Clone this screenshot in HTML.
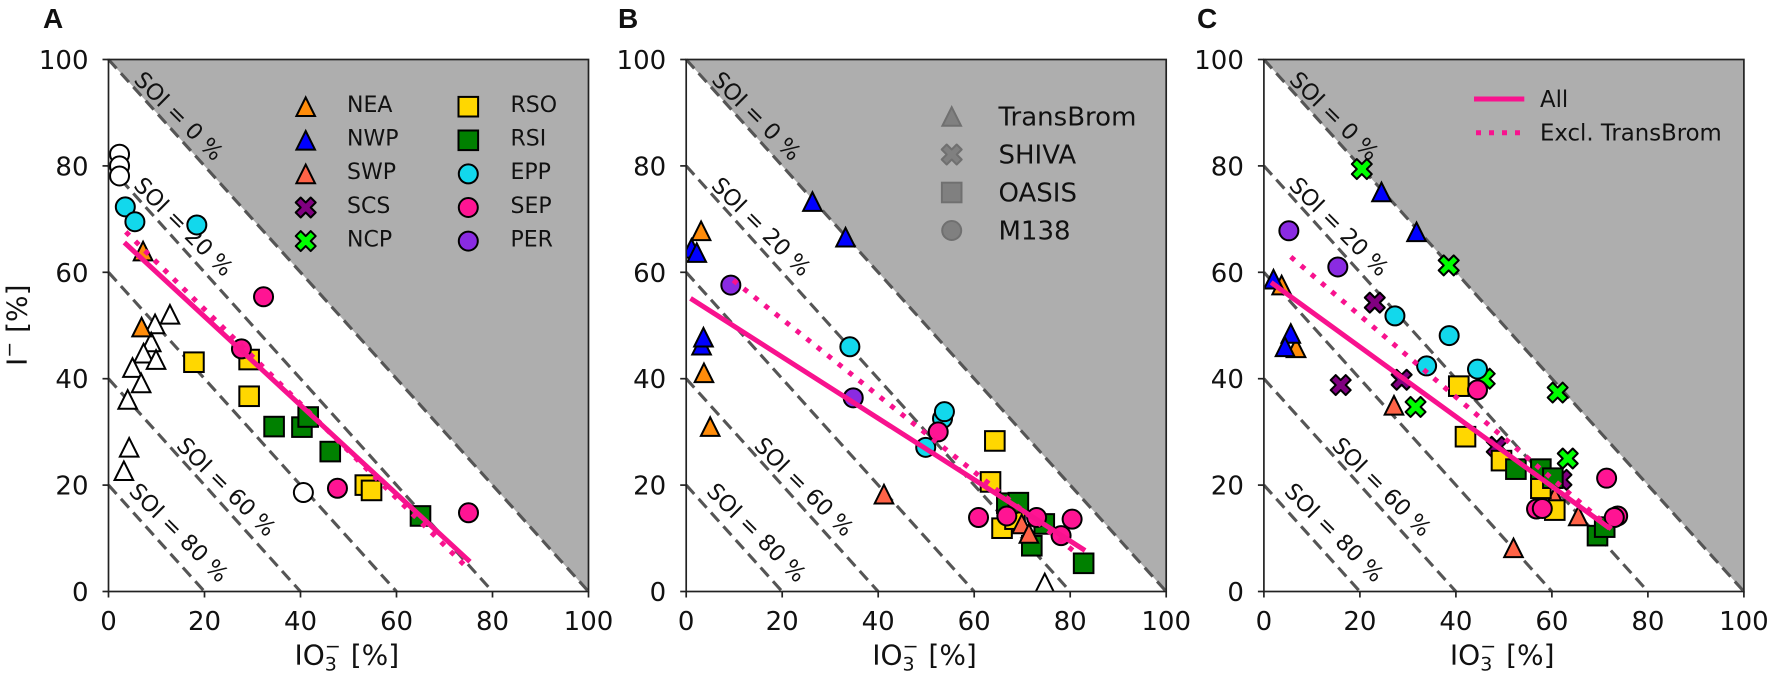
<!DOCTYPE html>
<html lang="en">
<head>
<meta charset="utf-8">
<title>SOI ternary scatter panels</title>
<style>
html,body{margin:0;padding:0;background:#fff;}
svg{display:block;}
text{font-family:"DejaVu Sans","Liberation Sans",sans-serif;fill:#111;}
</style>
</head>
<body>
<svg id="chart" xmlns="http://www.w3.org/2000/svg" width="1772" height="676" viewBox="0 0 1772 676"></svg>
<script>
// ---- shared axis data ----
const tickValues = [0, 20, 40, 60, 80, 100];
const soiLevels = [0, 20, 40, 60, 80];
const soiLabelLevels = [0, 20, 60, 80];
const soiLabelX = [14.7, 15.7, 24.6, 14.7];
const soiLabelY = [89.4, 68.6, 19.7, 11.1];

// ---- panel A values: [IO3-, I-] ----
const a_NONE = [[12.8,52.1],[9.7,50.3],[8.9,46.9],[7.3,44.8],[9.9,43.6],[5,42.1],[6.8,39.2],[4,36.1],[4.3,27.1],[3.2,22.7]];
const a_NONE_C = [[2.3,82.2],[2.3,80],[2.3,78.1],[40.6,18.6]];
const a_NEA = [[7.2,64],[6.9,49.7]];
const a_RSO = [[17.8,43.1],[29.3,43.6],[29.3,36.7],[53.5,20],[54.8,19]];
const a_RSI = [[34.5,31],[40.3,30.9],[41.6,32.8],[46.2,26.3],[65,14.2]];
const a_EPP = [[3.5,72.3],[5.5,69.5],[18.4,68.9]];
const a_SEP = [[32.3,55.4],[27.7,45.6],[47.7,19.4],[75,14.8]];
const a_all = [[3.3,65.6],[75.3,5.6]];
const a_excl = [[3.6,67.6],[74.8,4.4]];

// ---- panel B values ----
const b_NONE = [[74.7,1.6]];
const b_NEA = [[3.1,67.8],[3.7,41.1],[5,31]];
const b_NWP = [[26.3,73.3],[33.2,66.6],[1.1,64.5],[2.2,63.7],[3.2,46.3],[3.6,47.8]];
const b_SWP = [[41.2,18.3],[69.9,12.7],[71.4,10.9]];
const b_RSO = [[64.3,28.3],[63.4,20.6],[65.8,11.9],[68.5,13.6]];
const b_RSI = [[66.8,16.6],[69.2,16.7],[74.6,12.7],[72,8.6],[82.8,5.3]];
const b_EPP = [[34.1,46],[53.4,32.5],[53.8,33.8],[49.9,27.1]];
const b_SEP = [[52.5,30],[60.9,13.9],[66.8,14.2],[73,13.9],[80.4,13.6],[78.1,10.5]];
const b_PER = [[9.3,57.6],[34.8,36.4]];
const b_all = [[0.9,55.1],[83.1,7.7]];
const b_excl = [[9.8,58.5],[81.3,7.2]];

// ---- panel C values ----
const c_NEA = [[3.7,57.6],[6.7,45.8]];
const c_NWP = [[24.5,75.1],[31.8,67.6],[2,58.7],[5.6,48.5],[4.4,46]];
const c_SWP = [[27.1,35],[52,8.2],[65.5,14.2],[60.6,17.8]];
const c_SCS = [[23.1,54.3],[16,38.8],[28.7,39.8],[48.5,27.2],[62,21]];
const c_NCP = [[20.4,79.4],[38.5,61.3],[61.2,37.4],[63.3,25],[31.6,34.7],[46,40]];
const c_RSO = [[40.6,38.6],[42,29.1],[49.5,24.6],[57.7,19.4],[60.6,15.3]];
const c_RSI = [[52.5,23],[57.7,23],[60.2,21.3],[69.5,10.5],[71,12.1]];
const c_EPP = [[27.3,51.8],[38.6,48.1],[33.9,42.4],[44.5,41.8]];
const c_SEP = [[44.5,37.9],[71.4,21.3],[56.8,15.5],[58,15.6],[73.7,14.2],[73,13.9]];
const c_PER = [[5.2,67.8],[15.4,61]];
const c_all = [[1.5,58.1],[72,11.9]];
const c_excl = [[5.6,62.9],[73.5,10.9]];

// ---- legend entries ----
const legendACol1 = ['NEA','NWP','SWP','SCS','NCP'];
const legendACol2 = ['RSO','RSI','EPP','SEP','PER'];
const legendBNames = ['TransBrom','SHIVA','OASIS','M138'];
const legendBShapes = ['tri','x','sq','o'];
const legendCNames = ['All','Excl. TransBrom'];

// ---- styling ----
const styleOf = {
  WT:  {shape:'tri', fill:'#ffffff'},
  WC:  {shape:'o',   fill:'#ffffff'},
  NEA: {shape:'tri', fill:'#ff8c0a'},
  NWP: {shape:'tri', fill:'#0000ff'},
  SWP: {shape:'tri', fill:'#ff6347'},
  SCS: {shape:'x',   fill:'#800080'},
  NCP: {shape:'x',   fill:'#00ff00'},
  RSO: {shape:'sq',  fill:'#ffd700'},
  RSI: {shape:'sq',  fill:'#008000'},
  EPP: {shape:'o',   fill:'#12d8ec'},
  SEP: {shape:'o',   fill:'#ff1493'},
  PER: {shape:'o',   fill:'#8a2be2'}
};
const LINE_COLOR = '#f8128e';
const PLOT_W = 480, Y_BOTTOM = 591.5, Y_TOP = 59.5;
const svgNS = 'http://www.w3.org/2000/svg';
const root = document.getElementById('chart');

function mk(tag, parent, name, attrs, interactable) {
  const el = document.createElementNS(svgNS, tag);
  
  
  for (const k in attrs) el.setAttribute(k, attrs[k]);
  parent.appendChild(el);
  return el;
}
function txt(parent, name, str, x, y, size, extra) {
  const el = mk('text', parent, name, Object.assign({x:x, y:y, 'font-size':size}, extra || {}));
  el.textContent = str;
  return el;
}
function drawMarker(parent, name, shape, cx, cy, fill, stroke, sw) {
  const base = {fill:fill, stroke:stroke, 'stroke-width':sw, 'stroke-linejoin':'miter'};
  if (shape === 'o') {
    return mk('circle', parent, name, Object.assign({cx:cx, cy:cy, r:9.5}, base));
  }
  if (shape === 'sq') {
    const d = 19.6;
    return mk('rect', parent, name, Object.assign({x:cx-d/2, y:cy-d/2, width:d, height:d}, base));
  }
  if (shape === 'tri') {
    const d = 18.6;
    const pts = [[0,-d/2],[d/2,d/2],[-d/2,d/2]].map(p => (cx+p[0]) + ',' + (cy+p[1])).join(' ');
    return mk('polygon', parent, name, Object.assign({points:pts}, base));
  }
  const u = 5;
  const shapeX = [[-1,-2],[0,-1],[1,-2],[2,-1],[1,0],[2,1],[1,2],[0,1],[-1,2],[-2,1],[-1,0],[-2,-1]];
  const pts = shapeX.map(p => (cx+p[0]*u) + ',' + (cy+p[1]*u)).join(' ');
  return mk('polygon', parent, name, Object.assign({points:pts}, base, {'stroke-linejoin':'round'}));
}

function drawPanel(cfg) {
  const x0 = cfg.x0;
  const sx = v => x0 + v / 100 * PLOT_W;
  const sy = v => Y_BOTTOM - v / 100 * (Y_BOTTOM - Y_TOP);
  const g = mk('g', root, 'panel-' + cfg.id, {});
  txt(g, 'panel-letter-' + cfg.id, cfg.letter, cfg.letterX, 28, 28,
      {'font-weight':'bold', style:'font-family:"Liberation Sans",sans-serif', fill:'#111'});

  const clip = mk('clipPath', g, 'plot-clip-' + cfg.id, {id:'clip-' + cfg.id});
  mk('rect', clip, 'plot-clip-rect-' + cfg.id, {x:x0, y:Y_TOP, width:PLOT_W, height:Y_BOTTOM-Y_TOP});

  mk('polygon', g, 'unphysical-region-' + cfg.id, {
    points: sx(0)+','+sy(100)+' '+sx(100)+','+sy(100)+' '+sx(100)+','+sy(0),
    fill:'#aeaeae'
  });

  const soiG = mk('g', g, 'soi-lines-' + cfg.id, {});
  soiLevels.forEach(function (lvl) {
    mk('line', soiG, 'soi-line-' + lvl, {
      x1:sx(0), y1:sy(100-lvl), x2:sx(100-lvl), y2:sy(0),
      stroke:'#555555', 'stroke-width':3.1, 'stroke-dasharray':'12 6.5'
    });
  });
  soiLabelLevels.forEach(function (lvl, i) {
    const px = sx(soiLabelX[i]), py = sy(soiLabelY[i]);
    txt(g, 'soi-label-' + lvl, 'SOI = ' + lvl + ' %', px, py + 8, 22.5,
        {'text-anchor':'middle', transform:'rotate(45 ' + px + ' ' + py + ')'});
  });

  const marks = mk('g', g, 'markers-' + cfg.id, {'clip-path':'url(#clip-' + cfg.id + ')'});
  cfg.series.forEach(function (s) {
    const st = styleOf[s.key];
    s.data.forEach(function (pt, i) {
      drawMarker(marks, s.key.toLowerCase() + '-point-' + i, st.shape, sx(pt[0]), sy(pt[1]), st.fill, '#000', 2);
    });
  });

  mk('line', g, 'fit-line-excl-transbrom', {
    x1:sx(cfg.excl[0][0]), y1:sy(cfg.excl[0][1]), x2:sx(cfg.excl[1][0]), y2:sy(cfg.excl[1][1]),
    stroke:LINE_COLOR, 'stroke-width':5, 'stroke-dasharray':'5 8.4'
  });
  mk('line', g, 'fit-line-all', {
    x1:sx(cfg.all[0][0]), y1:sy(cfg.all[0][1]), x2:sx(cfg.all[1][0]), y2:sy(cfg.all[1][1]),
    stroke:LINE_COLOR, 'stroke-width':5
  });

  mk('rect', g, 'plot-frame-' + cfg.id, {x:x0, y:Y_TOP, width:PLOT_W, height:Y_BOTTOM-Y_TOP, fill:'none', stroke:'#222', 'stroke-width':1.7});

  tickValues.forEach(function (v) {
    mk('line', g, 'x-tick-' + v, {x1:sx(v), x2:sx(v), y1:Y_BOTTOM, y2:Y_BOTTOM+6, stroke:'#222', 'stroke-width':1.7});
    mk('line', g, 'y-tick-' + v, {x1:x0-6, x2:x0, y1:sy(v), y2:sy(v), stroke:'#222', 'stroke-width':1.7});
    txt(g, 'x-tick-label-' + v, String(v), sx(v), 630, 26, {'text-anchor':'middle'});
    txt(g, 'y-tick-label-' + v, String(v), x0-20, sy(v)+9.5, 26, {'text-anchor':'end'});
  });

  const xl = txt(g, 'x-axis-title-' + cfg.id, 'IO', x0+186, 664.5, 28);
  const sub = mk('tspan', xl, 'x-axis-title-subscript', {'font-size':19, dy:6});
  sub.textContent = '3';
  const sup = mk('tspan', xl, 'x-axis-title-superscript', {'font-size':19, dx:-12, dy:-18});
  sup.textContent = '\u2212';
  const rest = mk('tspan', xl, 'x-axis-title-unit', {dy:12, dx:1});
  rest.textContent = ' [%]';
}

const panels = [
  {id:'a', letter:'A', letterX:43, x0:108.5, all:a_all, excl:a_excl, series:[
    {key:'WT', data:a_NONE},{key:'WC', data:a_NONE_C},{key:'NEA', data:a_NEA},{key:'RSO', data:a_RSO},
    {key:'RSI', data:a_RSI},{key:'EPP', data:a_EPP},{key:'SEP', data:a_SEP}]},
  {id:'b', letter:'B', letterX:618, x0:686.2, all:b_all, excl:b_excl, series:[
    {key:'WT', data:b_NONE},{key:'NEA', data:b_NEA},{key:'NWP', data:b_NWP},{key:'RSO', data:b_RSO},{key:'RSI', data:b_RSI},
    {key:'SWP', data:b_SWP},{key:'EPP', data:b_EPP},{key:'SEP', data:b_SEP},{key:'PER', data:b_PER}]},
  {id:'c', letter:'C', letterX:1197, x0:1263.9, all:c_all, excl:c_excl, series:[
    {key:'NEA', data:c_NEA},{key:'NWP', data:c_NWP},{key:'SCS', data:c_SCS},{key:'NCP', data:c_NCP},{key:'SWP', data:c_SWP},
    {key:'RSO', data:c_RSO},{key:'RSI', data:c_RSI},{key:'EPP', data:c_EPP},{key:'SEP', data:c_SEP},{key:'PER', data:c_PER}]}
];
panels.forEach(drawPanel);

// y axis title (panel A only)
const yl = txt(root, 'y-axis-title', 'I', 0, 0, 28, {transform:'translate(26.5 366) rotate(-90)'});
const ySup = mk('tspan', yl, 'y-axis-title-superscript', {'font-size':19, dy:-11});
ySup.textContent = '\u2212';
const yRest = mk('tspan', yl, 'y-axis-title-unit', {dy:11});
yRest.textContent = ' [%]';

// legend A
const legA = mk('g', root, 'legend-regions', {});
legendACol1.forEach(function (n, i) {
  const y = 106.7 + i * 33.6;
  drawMarker(legA, 'legend-marker-' + n.toLowerCase(), styleOf[n].shape, 305.7, y, styleOf[n].fill, '#000', 2);
  txt(legA, 'legend-label-' + n.toLowerCase(), n, 347, y + 5.3, 22);
});
legendACol2.forEach(function (n, i) {
  const y = 106.7 + i * 33.6;
  drawMarker(legA, 'legend-marker-' + n.toLowerCase(), styleOf[n].shape, 468.3, y, styleOf[n].fill, '#000', 2);
  txt(legA, 'legend-label-' + n.toLowerCase(), n, 510.5, y + 5.3, 22);
});

// legend B
const legB = mk('g', root, 'legend-campaigns', {});
legendBNames.forEach(function (n, i) {
  const y = 116.5 + i * 38;
  drawMarker(legB, 'legend-marker-' + n.toLowerCase(), legendBShapes[i], 951.7, y, '#808080', '#707070', 2);
  txt(legB, 'legend-label-' + n.toLowerCase(), n, 998.5, y + 9, 26);
});

// legend C
const legC = mk('g', root, 'legend-fits', {});
mk('line', legC, 'legend-line-all', {x1:1474, x2:1524.3, y1:99, y2:99, stroke:LINE_COLOR, 'stroke-width':5});
mk('line', legC, 'legend-line-excl-transbrom', {x1:1476, x2:1524.3, y1:132.7, y2:132.7, stroke:LINE_COLOR, 'stroke-width':5, 'stroke-dasharray':'5 8'});
txt(legC, 'legend-label-all', legendCNames[0], 1540, 107, 22.8);
txt(legC, 'legend-label-excl-transbrom', legendCNames[1], 1540, 140.5, 22.8);
</script>
</body>
</html>
